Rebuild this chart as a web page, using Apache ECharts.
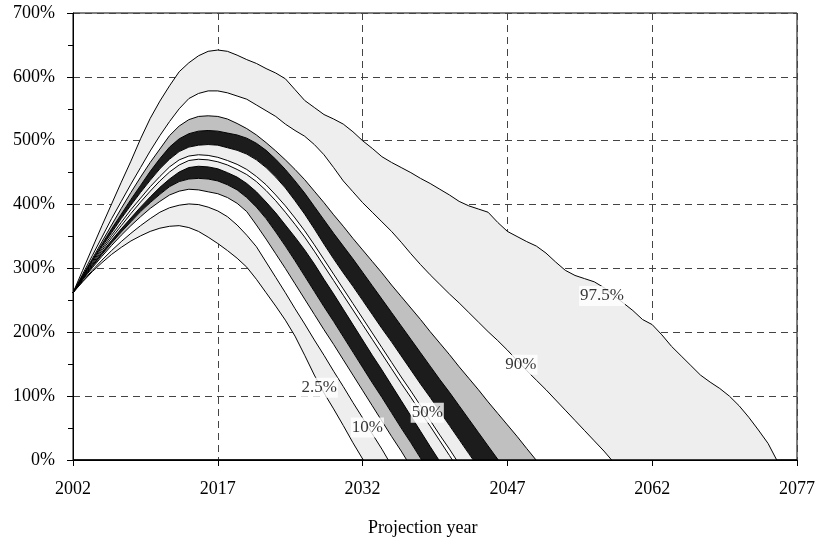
<!DOCTYPE html>
<html><head><meta charset="utf-8">
<script src="https://cdn.jsdelivr.net/npm/echarts@6/dist/echarts.min.js"></script>
<style>html,body{margin:0;padding:0;background:#fff}#c{width:818px;height:544px}</style>
</head><body><div id="c"></div><script>
// ---- data: projection percentiles, [year, value %] ----
const startYear = 2002;
const endYear = 2077;
const xTickStep = 15;
const yTickLabels = ['0%','100%','200%','300%','400%','500%','600%','700%'];
const xAxisTitle = 'Projection year';

const p975 = [[2002,262],[2003,297],[2004,332],[2005,367],[2006,401],[2007,435],[2008,468],[2009,503],[2010,535],[2011,562],[2012,586],[2013,608],[2014,622],[2015,633],[2016,640],[2017,642],[2018,640],[2019,634],[2020,627],[2021,621],[2022,613],[2023,606],[2024,597],[2025,580],[2026,563],[2027,552],[2028,541],[2029,534],[2030,526],[2031,514],[2032,500],[2033,488],[2034,475],[2035,466],[2036,458],[2037,450],[2038,441],[2039,433],[2040,424],[2041,415],[2042,405],[2043,398],[2044,393],[2045,388],[2046,372],[2047,358],[2048,350],[2049,342],[2050,335],[2051,324],[2052,310],[2053,297],[2054,289],[2055,284],[2056,279],[2057,270],[2058,258],[2059,246],[2060,234],[2061,220],[2062,212],[2063,196],[2064,178],[2065,163],[2066,148],[2067,133],[2068,122],[2069,112],[2070,100],[2071,85],[2072,67],[2073,47],[2074,26],[2074.9,0]];
const p90 = [[2002,262],[2003,291],[2004,320],[2005,349],[2006,378],[2007,405],[2008,432],[2009,458],[2010,484],[2011,508],[2012,530],[2013,550],[2014,566],[2015,574],[2016,578],[2017,578],[2018,575],[2019,570],[2020,565],[2021,556],[2022,547],[2023,538],[2024,526],[2025,516],[2026,507],[2027,494],[2028,478],[2029,458],[2030,437],[2031,420],[2032,403],[2033,388],[2034,373],[2035,358],[2036,341],[2037,323],[2038,306],[2039,290],[2040,275],[2041,260],[2042,246],[2043,231],[2044,216],[2045,201],[2046,187],[2047,172],[2048,156],[2049,140],[2050,125],[2051,110],[2052,94],[2053,78],[2054,62],[2055,46],[2056,30],[2057,14],[2057.8,0]];
const p80 = [[2002,262],[2003,289],[2004,315],[2005,342],[2006,368],[2007,394],[2008,419],[2009,443],[2010,466],[2011,487],[2012,508],[2013,523],[2014,533],[2015,538],[2016,539],[2017,538],[2018,534],[2019,527],[2020,519],[2021,509],[2022,497],[2023,484],[2024,470],[2025,455],[2026,439],[2027,421],[2028,403],[2029,384],[2030,366],[2031,347],[2032,329],[2033,311],[2034,293],[2035,274],[2036,256],[2037,238],[2038,220],[2039,201],[2040,183],[2041,165],[2042,146],[2043,128],[2044,110],[2045,91],[2046,73],[2047,55],[2048,37],[2049,18],[2049.97,0]];
const p70 = [[2002,262],[2003,288],[2004,313],[2005,338],[2006,362],[2007,385],[2008,408],[2009,430],[2010,452],[2011,472],[2012,490],[2013,503],[2014,511],[2015,515],[2016,516],[2017,515],[2018,512],[2019,509],[2020,504],[2021,496],[2022,485],[2023,471],[2024,455],[2025,437],[2026,418],[2027,397],[2028,376],[2029,355],[2030,335],[2031,315],[2032,294],[2033,273],[2034,252],[2035,231],[2036,210],[2037,189],[2038,168],[2039,147],[2040,126],[2041,106],[2042,85],[2043,64],[2044,43],[2045,22],[2046.06,0]];
const p60 = [[2002,262],[2003,287],[2004,311],[2005,334],[2006,356],[2007,378],[2008,399],[2009,419],[2010,438],[2011,456],[2012,471],[2013,483],[2014,490],[2015,493],[2016,494],[2017,493],[2018,489],[2019,485],[2020,479],[2021,470],[2022,458],[2023,443],[2024,426],[2025,406],[2026,385],[2027,362],[2028,338],[2029,315],[2030,293],[2031,272],[2032,250],[2033,228],[2034,206],[2035,185],[2036,163],[2037,141],[2038,119],[2039,98],[2040,76],[2041,54],[2042,32],[2043,10],[2043.47,0]];
const p50hi = [[2002,262],[2003,286],[2004,309],[2005,331],[2006,352],[2007,372],[2008,392],[2009,410],[2010,428],[2011,444],[2012,459],[2013,470],[2014,476],[2015,478],[2016,477],[2017,474],[2018,469],[2019,463],[2020,455],[2021,444],[2022,431],[2023,415],[2024,398],[2025,379],[2026,359],[2027,337],[2028,314],[2029,291],[2030,268],[2031,245],[2032,222],[2033,199],[2034,176],[2035,153],[2036,130],[2037,108],[2038,85],[2039,62],[2040,39],[2041,17],[2041.73,0]];
const p50lo = [[2002,262],[2003,285],[2004,307],[2005,328],[2006,348],[2007,367],[2008,386],[2009,404],[2010,421],[2011,437],[2012,451],[2013,462],[2014,469],[2015,471],[2016,470],[2017,467],[2018,462],[2019,455],[2020,447],[2021,436],[2022,422],[2023,406],[2024,388],[2025,369],[2026,349],[2027,327],[2028,304],[2029,281],[2030,258],[2031,235],[2032,212],[2033,189],[2034,166],[2035,143],[2036,120],[2037,98],[2038,75],[2039,53],[2040,30],[2041,7],[2041.3,0]];
const p40 = [[2002,262],[2003,284],[2004,305],[2005,325],[2006,344],[2007,362],[2008,379],[2009,396],[2010,412],[2011,427],[2012,440],[2013,451],[2014,458],[2015,460],[2016,459],[2017,456],[2018,450],[2019,443],[2020,433],[2021,420],[2022,404],[2023,387],[2024,368],[2025,349],[2026,329],[2027,307],[2028,283],[2029,260],[2030,236],[2031,212],[2032,188],[2033,164],[2034,141],[2035,117],[2036,93],[2037,69],[2038,45],[2039,21],[2039.9,0]];
const p30 = [[2002,262],[2003,283],[2004,303],[2005,322],[2006,340],[2007,357],[2008,373],[2009,389],[2010,403],[2011,416],[2012,428],[2013,436],[2014,440],[2015,441],[2016,440],[2017,437],[2018,431],[2019,423],[2020,411],[2021,396],[2022,378],[2023,357],[2024,335],[2025,312],[2026,288],[2027,264],[2028,240],[2029,217],[2030,193],[2031,169],[2032,145],[2033,121],[2034,98],[2035,74],[2036,50],[2037,27],[2038.12,0]];
const p20 = [[2002,262],[2003,282],[2004,301],[2005,319],[2006,336],[2007,352],[2008,367],[2009,381],[2010,394],[2011,405],[2012,415],[2013,421],[2014,424],[2015,423],[2016,420],[2017,417],[2018,411],[2019,402],[2020,389],[2021,368],[2022,346],[2023,323],[2024,300],[2025,276],[2026,252],[2027,228],[2028,204],[2029,181],[2030,157],[2031,133],[2032,109],[2033,85],[2034,61],[2035,37],[2036,14],[2036.57,0]];
const p10 = [[2002,262],[2003,280],[2004,297],[2005,313],[2006,328],[2007,342],[2008,355],[2009,367],[2010,378],[2011,388],[2012,395],[2013,399],[2014,401],[2015,400],[2016,396],[2017,390],[2018,381],[2019,368],[2020,352],[2021,334],[2022,310],[2023,286],[2024,262],[2025,237],[2026,213],[2027,188],[2028,164],[2029,139],[2030,115],[2031,90],[2032,66],[2033,41],[2034,17],[2034.66,0]];
const p025 = [[2002,262],[2003,279],[2004,295],[2005,309],[2006,322],[2007,333],[2008,343],[2009,351],[2010,358],[2011,363],[2012,366],[2013,367],[2014,364],[2015,358],[2016,349],[2017,339],[2018,328],[2019,316],[2020,302],[2021,283],[2022,262],[2023,241],[2024,219],[2025,194],[2026,164],[2027,133],[2028,105],[2029,80],[2030,54],[2031,27],[2032.07,0]];

// inline percentile labels: [year, value, text]
const curveLabels = [[2027.5,113,'2.5%'],[2032.5,51,'10%'],[2038.7,74,'50%'],[2048.4,149,'90%'],[2056.8,257,'97.5%']];

// ---- styling ----
const LIGHT = '#eeeeee', GRAY = '#c0c0c0', DARK = '#1c1c1c', WHITE = '#ffffff';
const bands = [
  {upper: p975, lower: p90, color: LIGHT},
  {upper: p90, lower: p80, color: WHITE},
  {upper: p80, lower: p70, color: GRAY},
  {upper: p70, lower: p60, color: DARK},
  {upper: p60, lower: p50hi, color: LIGHT},
  {upper: p50hi, lower: p50lo, color: WHITE},
  {upper: p50lo, lower: p40, color: LIGHT},
  {upper: p40, lower: p30, color: DARK},
  {upper: p30, lower: p20, color: GRAY},
  {upper: p20, lower: p10, color: WHITE},
  {upper: p10, lower: p025, color: LIGHT}
];
const lines = [p975, p90, p80, p70, p60, p50hi, p50lo, p40, p30, p20, p10, p025];
const FONT = 'Liberation Serif, Times New Roman, serif';
const toX = p => [p[0] - startYear, p[1]];

const chart = echarts.init(document.getElementById('c'), null, {renderer: 'canvas'});
const series = [];
series.push({
  type: 'custom', coordinateSystem: 'cartesian2d', silent: true, z: 1,
  data: bands.map(() => [0, 0]),
  renderItem: function (params, api) {
    const b = bands[params.dataIndex];
    const pts = b.upper.map(p => api.coord(toX(p)))
      .concat(b.lower.slice().reverse().map(p => api.coord(toX(p))));
    return {type: 'polygon', shape: {points: pts}, style: {fill: b.color, lineWidth: 0}};
  }
});
lines.forEach((arr) => {
  series.push({
    type: 'line', data: arr.map(toX), symbol: 'none', silent: true, z: 3,
    lineStyle: {color: '#000', width: 1}, animation: false
  });
});
series.push({
  type: 'scatter', z: 5, silent: true, symbolSize: 1,
  itemStyle: {color: 'rgba(0,0,0,0)'},
  data: curveLabels.map(l => [l[0] - startYear, l[1], l[2]]),
  label: {
    show: true, position: 'inside', formatter: p => p.value[2],
    color: '#000', fontFamily: FONT, fontSize: 17, backgroundColor: '#fff', padding: [2, 1, 1, 1]
  },
  markLine: {
    silent: true, symbol: 'none', animation: false, label: {show: false},
    lineStyle: {color: '#000', width: 1.5, type: 'solid'},
    data: [{yAxis: 0}]
  }
});

chart.setOption({
  animation: false,
  backgroundColor: '#fff',
  grid: {left: 73, right: 21, top: 13, bottom: 84, show: true, borderColor: '#000', borderWidth: 1, containLabel: false},
  xAxis: {
    type: 'value', min: 0, max: endYear - startYear, interval: xTickStep,
    axisLine: {show: true, onZero: false, lineStyle: {color: '#000', width: 1}},
    axisTick: {show: true, length: 6, lineStyle: {color: '#000'}},
    axisLabel: {margin: 20, color: '#000', fontFamily: FONT, fontSize: 18, formatter: v => String(v + startYear)},
    splitLine: {show: true, lineStyle: {color: '#444', type: [7, 5], width: 1}}
  },
  yAxis: {
    type: 'value', min: 0, max: 700, interval: 100,
    axisLine: {show: true, lineStyle: {color: '#000', width: 1}},
    axisTick: {show: true, length: 6, lineStyle: {color: '#000'}},
    minorTick: {show: true, splitNumber: 2, length: 5, lineStyle: {color: '#000'}},
    axisLabel: {margin: 18, color: '#000', fontFamily: FONT, fontSize: 18, formatter: v => yTickLabels[Math.round(v / 100)]},
    splitLine: {show: true, lineStyle: {color: '#444', type: [7, 5], width: 1}}
  },
  graphic: [{
    type: 'text', left: 423 - 55, top: 519,
    style: {text: xAxisTitle, fill: '#000', font: '18px ' + FONT}
  }],
  series: series
});
</script></body></html>
